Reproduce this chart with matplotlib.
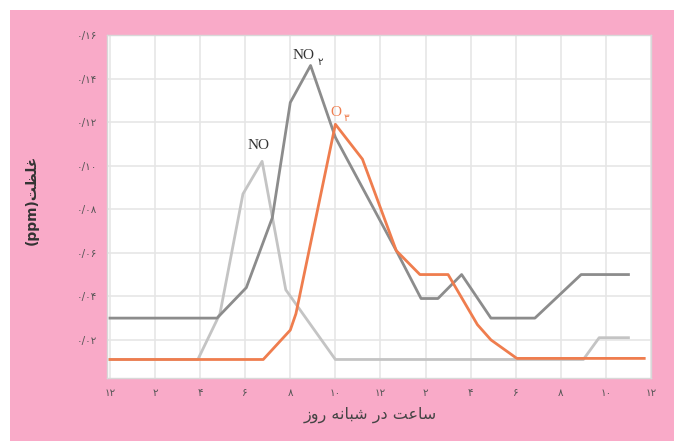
import matplotlib
matplotlib.use("Agg")
import matplotlib.pyplot as plt
from matplotlib.patches import Rectangle

# hours after midnight, ppm
no_t = [0, 3.9, 4.88, 5.9, 6.75, 7.8, 10.0, 21.0, 21.7, 23.0]
no_v = [0.011, 0.011, 0.032, 0.087, 0.102, 0.043, 0.011, 0.011, 0.021, 0.021]

no2_t = [0, 4.75, 6.05, 7.2, 8.0, 8.9, 10.0, 12.7, 13.8, 14.55, 15.6, 16.9, 18.85, 20.9, 23.0]
no2_v = [0.030, 0.030, 0.044, 0.076, 0.129, 0.146, 0.113, 0.061, 0.039, 0.039, 0.050, 0.030, 0.030, 0.050, 0.050]

o3_t = [0, 6.8, 8.0, 8.25, 10.0, 11.2, 12.7, 13.75, 15.0, 16.3, 16.9, 18.05, 23.7]
o3_v = [0.011, 0.011, 0.0245, 0.032, 0.119, 0.103, 0.061, 0.050, 0.050, 0.027, 0.020, 0.0115, 0.0115]

x_ticks = list(range(0, 25, 2))
x_labels = ["۱۲", "۲", "۴", "۶", "۸", "۱۰", "۱۲", "۲", "۴", "۶", "۸", "۱۰", "۱۲"]
y_ticks = [0.02, 0.04, 0.06, 0.08, 0.10, 0.12, 0.14, 0.16]
y_labels = ["۰/۰۲", "۰/۰۴", "۰/۰۶", "۰/۰۸", "۰/۱۰", "۰/۱۲", "۰/۱۴", "۰/۱۶"]

# arabic text in presentation forms, visual order (matplotlib has no shaping)
x_title = "\uFEAF\uFEED\uFEAD \uFEEA\uFEE7\uFE8E\uFE92\uFEB7 \uFEAD\uFEA9 \uFE96\uFECB\uFE8E\uFEB3"
y_title = "(ppm)\uFE96\uFEC8\uFEE0\uFECF"

W, H = 674, 441
fig = plt.figure(figsize=(W / 100, H / 100), dpi=100)
fig.patch.set_facecolor("white")
fig.patches.append(Rectangle((10 / W, 0), 1, 1 - 10 / H, transform=fig.transFigure,
                             facecolor="#f9aac8", edgecolor="none", zorder=-5))

ax = fig.add_axes([107 / W, 1 - 378 / H, (651 - 107) / W, (378 - 35) / H])
ax.set_zorder(2)
ax.set_facecolor("white")
ax.set_xlim(-0.13, 24)
ax.set_ylim(0.0025, 0.16)

ax.set_xticks(x_ticks)
ax.set_xticklabels(x_labels, family=["DejaVu Sans"], fontsize=7.5, color="#555555")
ax.set_yticks(y_ticks)
ax.set_yticklabels(y_labels, family=["DejaVu Sans"], fontsize=7.5, color="#555555")
ax.tick_params(length=0, pad=7)
ax.grid(True, color="#e6e6e6", linewidth=1.2)
ax.set_axisbelow(True)
for s in ax.spines.values():
    s.set_color("#d8d8d8")
    s.set_linewidth(1)

ax.plot(no_t, no_v, color="#c4c4c4", lw=2)
ax.plot(no2_t, no2_v, color="#8c8c8c", lw=2)
ax.plot(o3_t, o3_v, color="#ef7d4e", lw=2)

serif = ["Liberation Serif", "DejaVu Sans"]
ax.text(6.6, 0.1065, "NO", family=serif, fontsize=11, color="#333333", ha="center", va="bottom")
ax.text(8.6, 0.1475, "NO", family=serif, fontsize=11, color="#333333", ha="center", va="bottom")
ax.text(9.2, 0.1455, "۲", family=["DejaVu Sans"], fontsize=7.5, color="#333333", ha="left", va="bottom")
ax.text(10.0, 0.1215, "O", family=serif, fontsize=11, color="#ef7d4e", ha="center", va="bottom")
ax.text(10.35, 0.1195, "۳", family=["DejaVu Sans"], fontsize=7.5, color="#ef7d4e", ha="left", va="bottom")

fig.text(370 / W, 1 - 415 / H, x_title, family=["DejaVu Sans"], fontsize=11.5,
         color="#444444", ha="center", va="center")
fig.text(32 / W, 1 - 200 / H, y_title, family=["DejaVu Sans"], fontsize=10, fontweight="bold",
         color="#333333", ha="center", va="center", rotation=90)

fig.savefig("out.png", dpi=100)
